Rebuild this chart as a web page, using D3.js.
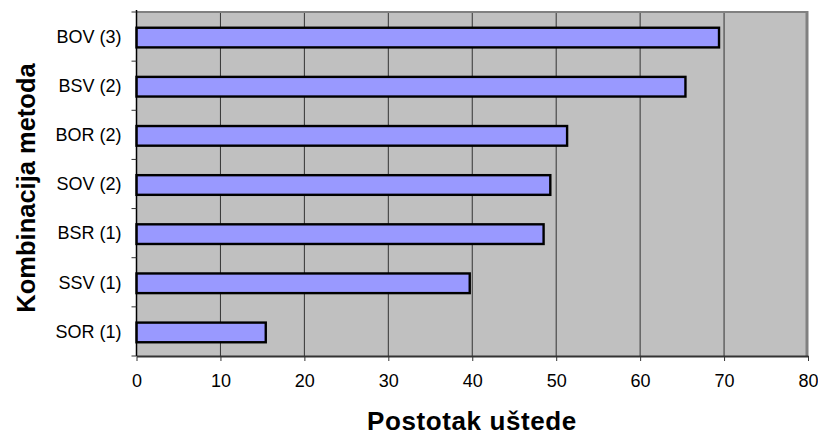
<!DOCTYPE html>
<html>
<head>
<meta charset="utf-8">
<script src="https://cdn.jsdelivr.net/npm/d3@7"></script>
<style>
  body { margin: 0; background: #fff; }
  text { font-family: "Liberation Sans", Arial, sans-serif; }
</style>
</head>
<body>
<div id="chart"></div>
<script>
// data
var categories = ["BOV (3)", "BSV (2)", "BOR (2)", "SOV (2)", "BSR (1)", "SSV (1)", "SOR (1)"];
var savings = [69.4, 65.4, 51.3, 49.3, 48.5, 39.7, 15.4];
var xTicks = [0, 10, 20, 30, 40, 50, 60, 70, 80];

(function () {
	var width = 818, height = 436;
	var plotLeft = 136.5, plotRight = 808, plotTop = 12, plotBottom = 356;

	var svg = d3.select("#chart").append("svg")
		.attr("width", width)
		.attr("height", height);

	var x = d3.scaleLinear().domain([0, 80]).range([plotLeft, plotRight]);
	var y = d3.scaleBand().domain(categories).range([plotTop, plotBottom]).paddingInner(0.6).paddingOuter(0.3);
	var yBand = d3.scaleBand().domain(categories).range([plotTop, plotBottom]);

	// plot background
	svg.append("rect")
		.attr("x", plotLeft).attr("y", plotTop)
		.attr("width", plotRight - plotLeft).attr("height", plotBottom - plotTop)
		.attr("fill", "#c0c0c0");

	// vertical grid lines
	svg.selectAll("line.grid")
		.data(xTicks.slice(1, -1))
		.enter()
		.append("line")
		.attr("class", "grid")
		.attr("x1", function (d) { return x(d); })
		.attr("x2", function (d) { return x(d); })
		.attr("y1", plotTop).attr("y2", plotBottom)
		.attr("stroke", "#333")
		.attr("stroke-width", 1);

	// frame: top and right in gray
	svg.append("line")
		.attr("x1", plotLeft).attr("x2", plotRight).attr("y1", plotTop).attr("y2", plotTop)
		.attr("stroke", "#808080").attr("stroke-width", 2);
	svg.append("line")
		.attr("x1", plotRight - 1).attr("x2", plotRight - 1).attr("y1", plotTop - 1).attr("y2", plotBottom)
		.attr("stroke", "#808080").attr("stroke-width", 3);

	// bars
	svg.selectAll("rect.bar")
		.data(savings)
		.enter()
		.append("rect")
		.attr("class", "bar")
		.attr("x", x(0))
		.attr("y", function (d, i) { return y(categories[i]) + 1; })
		.attr("width", function (d) { return x(d) - x(0); })
		.attr("height", y.bandwidth())
		.attr("fill", "#9999ff")
		.attr("stroke", "#000")
		.attr("stroke-width", 2.4);

	// x axis
	var xAxis = svg.append("g")
		.attr("transform", "translate(0," + plotBottom + ")")
		.call(d3.axisBottom(x).tickValues(xTicks).tickSize(5).tickPadding(13).tickSizeOuter(0));
	xAxis.select(".domain").attr("stroke", "#333").attr("stroke-width", 2);
	xAxis.selectAll(".tick line").attr("stroke", "#333");
	xAxis.selectAll("text").style("font-size", "18px").attr("fill", "#000");

	// y axis, ticks sit at the band edges
	var yAxis = svg.append("g")
		.attr("transform", "translate(" + plotLeft + ",0)");
	yAxis.append("line")
		.attr("x1", 0).attr("x2", 0).attr("y1", plotTop - 2).attr("y2", plotBottom)
		.attr("stroke", "#000").attr("stroke-width", 1.5);
	yAxis.selectAll("line.tk")
		.data(categories.concat(["end"]))
		.enter()
		.append("line")
		.attr("class", "tk")
		.attr("x1", -5).attr("x2", 0)
		.attr("y1", function (d, i) { return i < categories.length ? yBand(d) : plotBottom; })
		.attr("y2", function (d, i) { return i < categories.length ? yBand(d) : plotBottom; })
		.attr("stroke", "#333");
	yAxis.selectAll("text")
		.data(categories)
		.enter()
		.append("text")
		.attr("x", -15)
		.attr("y", function (d) { return y(d) + y.bandwidth() / 2; })
		.attr("dy", "0.35em")
		.attr("text-anchor", "end")
		.style("font-size", "18px")
		.text(function (d) { return d; });

	// axis titles
	svg.append("text")
		.attr("x", 472)
		.attr("y", 430)
		.attr("text-anchor", "middle")
		.style("font-size", "26px")
		.style("font-weight", "bold")
		.style("letter-spacing", "0.6px")
		.text("Postotak uštede");

	svg.append("text")
		.attr("transform", "translate(35,188) rotate(-90)")
		.attr("text-anchor", "middle")
		.style("font-size", "25.5px")
		.style("font-weight", "bold")
		.text("Kombinacija metoda");
})();
</script>
</body>
</html>
